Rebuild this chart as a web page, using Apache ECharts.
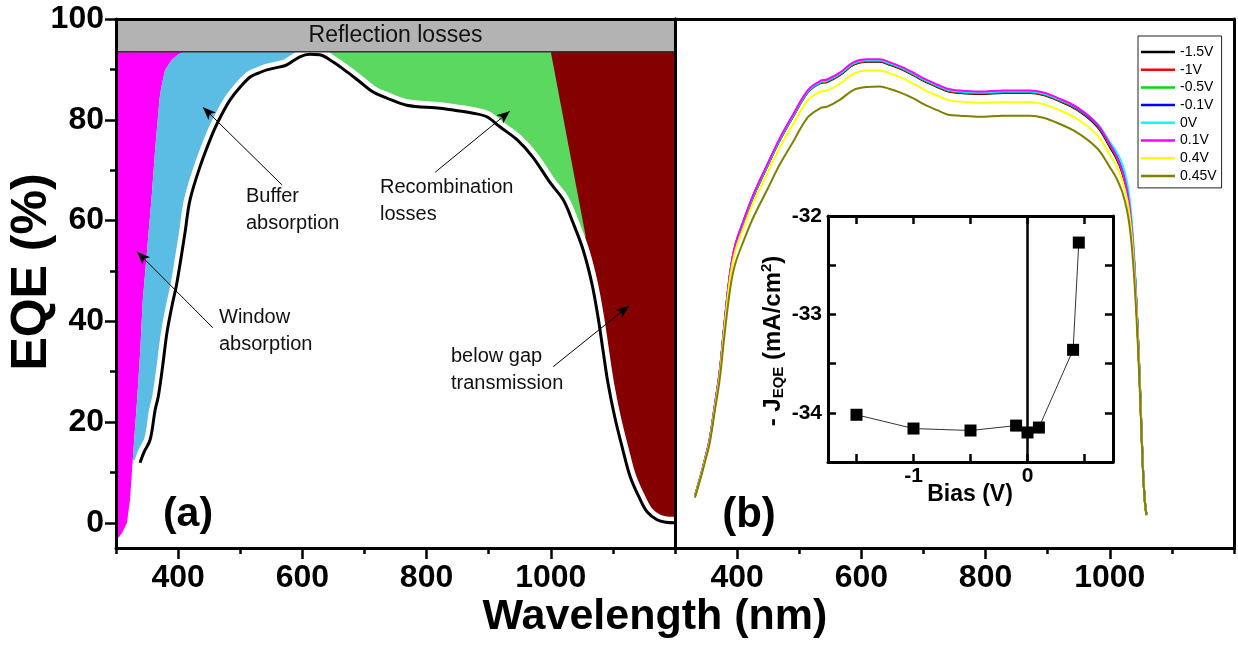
<!DOCTYPE html>
<html>
<head>
<meta charset="utf-8">
<title>EQE loss analysis and bias dependence</title>
<script src="https://cdn.jsdelivr.net/npm/echarts@6/dist/echarts.min.js"></script>
<style>
  html, body { margin: 0; padding: 0; background: #fff; }
  #chart { width: 1238px; height: 647px; }
</style>
</head>
<body>
<div id="chart"></div>
<script>
// ---------- panel (a): EQE and optical / electrical losses ----------
const eqeWl  = [338.6, 345, 355, 363, 368, 375, 382, 390, 398, 411, 419, 435, 456, 470, 484, 500, 516, 530, 543, 564,
                575, 596, 612, 628, 649, 672, 693, 714, 736, 768, 822, 850, 875, 897, 918, 946, 971, 999, 1020, 1036,
                1052, 1066, 1076, 1084, 1092, 1103, 1116, 1128, 1144, 1155, 1171, 1185, 1200];
const eqeVal = [11.9, 14.0, 16.5, 22.4, 25.0, 31.0, 37.7, 43.0, 47.6, 57.5, 64.0, 70.6, 77.4, 81.0, 84.0, 86.5, 88.5, 89.3, 89.9, 90.5,
                90.9, 92.5, 93.0, 92.9, 91.5, 89.5, 87.5, 85.5, 84.3, 82.9, 82.3, 81.8, 81.3, 80.6, 78.6, 76.0, 72.6, 67.5, 64.1, 59.5,
                54.2, 47.6, 40.9, 34.3, 27.8, 21.0, 14.5, 9.1, 4.6, 2.2, 0.6, 0.1, 0.0];

// upper limit after reflection losses
const reflectionLimit = 93.5;
// window / buffer absorption boundary, top to bottom
const windowEdge = [[411, 93.5], [401, 93.0], [390, 91.9], [379, 89.9], [373, 86.5], [370, 84.0], [363, 74.0],
                    [357, 64.0], [350, 54.0], [343, 44.0], [339, 34.0], [334, 24.4], [327, 12.5], [322.5, 4.6],
                    [317.7, 0.0], [313, -1.2], [309.7, -2.0], [305, -2.8], [300, -3.2]];
const bufferTipIndex = 12;
// recombination / below-gap boundary
const gapEdgeTop = [1000, 93.5];
const gapEdgeEnd = [1056, 57];

// annotation arrows: [from, to] in (nm, %)
const arrowBuffer = [[567, 67.1], [440, 82.5]];
const arrowWindow = [[456, 38.7], [334, 53.8]];
const arrowRecomb = [[814, 69.6], [934, 81.7]];
const arrowGap    = [[1004, 31.0], [1126, 43.1]];

// ---------- panel (b): EQE under bias ----------
const biasWl = [332, 338, 344, 350, 356, 364, 372, 380, 389, 397, 410, 426, 448, 469, 490, 514, 534, 545, 566, 587,
                609, 630, 646, 665, 683, 702, 722, 740, 759, 791, 828, 872, 893, 915, 947, 980,
                1000, 1010, 1020, 1028, 1034, 1039, 1043, 1047, 1050, 1053, 1056, 1059];
const biasNames = ['-1.5V', '-1V', '-0.5V', '-0.1V', '0V', '0.1V', '0.4V', '0.45V'];
const biasColors = ['#000000', '#ff0000', '#00dd00', '#0000ff', '#00ffff', '#ff00ff', '#ffff00', '#808000'];
const eqeM15 = [5.2,7.8,10.5,13.4,16.5,23.0,29.8,39.7,49.6,54.8,59.5,64.7,70.6,76.0,80.6,85.5,87.3,87.5,88.9,90.9,91.5,91.5,90.9,90.0,88.9,87.6,86.5,85.6,85.3,85.1,85.3,85.3,84.9,83.9,82.0,78.6,
                74.6,72.5,69.5,65.5,60.0,52.0,43.0,32.0,22.0,12.0,5.0,1.6];
const eqeM10 = [5.2,7.8,10.5,13.4,16.6,23.1,29.9,39.8,49.7,54.9,59.6,64.8,70.7,76.1,80.7,85.6,87.4,87.6,89.0,91.0,91.6,91.6,91.0,90.1,89.0,87.7,86.6,85.7,85.4,85.2,85.4,85.4,85.0,84.0,82.1,78.8,
                74.9,72.8,69.8,65.8,60.2,52.1,43.1,32.0,22.0,12.0,5.0,1.6];
const eqeM05 = [5.2,7.8,10.5,13.4,16.6,23.1,29.9,39.8,49.7,54.9,59.6,64.8,70.7,76.1,80.7,85.6,87.4,87.7,89.1,91.1,91.7,91.7,91.1,90.2,89.1,87.8,86.7,85.8,85.5,85.3,85.5,85.5,85.1,84.1,82.2,78.9,
                75.0,72.9,69.9,65.9,60.3,52.2,43.2,32.1,22.1,12.0,5.0,1.6];
const eqeM01 = [5.2,7.8,10.5,13.4,16.6,23.1,30.0,39.9,49.8,55.0,59.7,64.9,70.8,76.2,80.8,85.7,87.5,87.8,89.2,91.2,91.8,91.8,91.2,90.3,89.2,87.9,86.8,85.9,85.6,85.4,85.6,85.6,85.2,84.2,82.3,79.0,
                75.2,73.1,70.1,66.1,60.5,52.4,43.3,32.2,22.1,12.1,5.0,1.6];
const eqeP00 = [5.2,7.8,10.5,13.4,16.6,23.2,30.0,39.9,49.8,55.0,59.7,64.9,70.8,76.2,80.8,85.7,87.5,87.8,89.2,91.2,91.8,91.8,91.2,90.3,89.2,87.9,86.8,85.9,85.6,85.4,85.6,85.6,85.2,84.2,82.4,79.2,
                75.6,73.8,71.2,67.5,62.0,53.6,44.0,32.6,22.3,12.2,5.1,1.6];
const eqeP01 = [5.2,7.8,10.6,13.5,16.7,23.3,30.1,40.0,49.9,55.2,59.9,65.1,71.0,76.4,81.0,85.9,87.7,88.0,89.4,91.4,92.0,92.0,91.4,90.5,89.4,88.1,87.0,86.1,85.8,85.6,85.8,85.8,85.4,84.4,82.5,79.1,
                75.2,73.0,69.9,65.9,60.3,52.2,43.1,32.0,22.0,12.0,5.0,1.6];
const eqeP04 = [5.1,7.7,10.4,13.2,16.3,22.7,29.4,39.1,48.8,53.9,58.4,63.5,69.2,74.6,79.1,83.9,85.6,85.8,87.2,89.1,89.8,89.8,89.2,88.3,87.2,85.9,84.8,83.9,83.6,83.4,83.5,83.5,83.1,82.1,80.2,76.9,
                73.1,71.0,68.0,64.1,58.7,50.9,42.1,31.4,21.6,11.8,4.9,1.5];
const eqeP045 = [5.0,7.5,10.1,12.9,15.9,22.1,28.5,37.6,46.6,51.4,55.8,60.6,66.0,71.2,75.6,80.5,82.3,82.6,84.0,85.9,86.5,86.6,86.1,85.3,84.3,83.0,81.9,81.0,80.8,80.6,80.8,80.8,80.4,79.4,77.5,74.3,
                70.6,68.6,65.7,61.9,56.7,49.2,40.7,30.4,21.0,11.5,4.8,1.5];
const eqeByBias = [eqeM15, eqeM10, eqeM05, eqeM01, eqeP00, eqeP01, eqeP04, eqeP045];

// ---------- inset: photocurrent from EQE vs bias ----------
const biasV = [-1.5, -1, -0.5, -0.1, 0, 0.1, 0.4, 0.45];
const jEqe  = [-34.02, -34.16, -34.18, -34.13, -34.20, -34.15, -33.36, -32.27];

// tick values
const wlMajor = [400, 600, 800, 1000];
const wlMinor = [300, 500, 700, 900, 1100, 1200];
const eqeMajor = [0, 20, 40, 60, 80, 100];
const eqeMinor = [10, 30, 50, 70, 90];
const biasTicks = [-1.5, -1, -0.5, 0, 0.5];
const biasLabels = [-1, 0];
const jTicks = [-34, -33.5, -33, -32.5];
const jLabels = [-34, -33, -32];

// ---------- derived polygons ----------
const zip = (xs, ys) => xs.map((x, i) => [x, ys[i]]);
const reflectionPoly = [[300, reflectionLimit], [1200, reflectionLimit], [1200, 100], [300, 100]];
const windowPoly = [[300, reflectionLimit]].concat(windowEdge);
const bufferPoly = windowEdge.slice(0, bufferTipIndex + 1)
  .concat([[eqeWl[0], eqeVal[0]], [345, 0], [600, 0], [600, reflectionLimit]]);
const recombPoly = [[600, reflectionLimit], gapEdgeTop, gapEdgeEnd, [1040, 45], [600, 45]];
const gapPoly = [gapEdgeTop, [1200, reflectionLimit], [1200, -5], [1000, -5]];

const FONT = '"Liberation Sans", Arial, Helvetica, sans-serif';
const SMOOTH = 0.35;
const plain = function (v) { return String(v); };

function region(points, color, z) {
  return {
    type: 'custom', xAxisIndex: 0, yAxisIndex: 0, z: z, silent: true, animation: false,
    data: points, encode: { x: 0, y: 1 },
    renderItem: function (params, api) {
      if (params.dataIndex !== 0) return null;
      return {
        type: 'polygon',
        shape: { points: points.map(function (p) { return api.coord(p); }) },
        style: { fill: color }
      };
    }
  };
}

// gray reflection band with its lower edge and caption
const reflectionSeries = {
  type: 'custom', xAxisIndex: 0, yAxisIndex: 0, z: 4, silent: true, animation: false,
  data: reflectionPoly, encode: { x: 0, y: 1 },
  renderItem: function (params, api) {
    if (params.dataIndex !== 0) return null;
    const mid = api.coord([750, (reflectionLimit + 100) / 2]);
    return {
      type: 'group',
      children: [
        { type: 'polygon', shape: { points: reflectionPoly.map(function (p) { return api.coord(p); }) },
          style: { fill: '#b3b3b3' } },
        { type: 'polyline', shape: { points: [api.coord([300, reflectionLimit]), api.coord([1200, reflectionLimit])] },
          style: { stroke: '#333', lineWidth: 1.5, fill: null } },
        { type: 'text', x: mid[0], y: mid[1],
          style: { text: 'Reflection losses', fontSize: 23, fontFamily: FONT, fill: '#111',
                   align: 'center', verticalAlign: 'middle' } }
      ]
    };
  }
};

const axisLine = { show: true, onZero: false, lineStyle: { color: '#000', width: 3 } };
const noLine = { show: false, onZero: false };
const tickStyle = { color: '#000', width: 2.5 };
const labelBig = { fontSize: 32, fontWeight: 'bold', fontFamily: FONT, color: '#000', formatter: plain };
const labelInset = { fontSize: 21, fontWeight: 'bold', fontFamily: FONT, color: '#000', formatter: plain };
const hidden = { show: false };

function frameAxis(gridIndex, position, min, max) {
  return { gridIndex: gridIndex, type: 'value', position: position, min: min, max: max, z: 10,
           axisLine: axisLine, axisTick: hidden, axisLabel: hidden, splitLine: hidden };
}

const xAxes = [
  // panel (a)
  { gridIndex: 0, type: 'value', position: 'bottom', min: 300, max: 1200, z: 10, axisLine: axisLine,
    axisTick: { show: true, length: 6, lineStyle: tickStyle, customValues: wlMinor },
    axisLabel: hidden, splitLine: hidden },
  { gridIndex: 0, type: 'value', position: 'bottom', min: 300, max: 1200, z: 10, axisLine: noLine,
    axisTick: { show: true, length: 11, lineStyle: tickStyle, customValues: wlMajor },
    axisLabel: Object.assign({ margin: 14, customValues: wlMajor }, labelBig), splitLine: hidden },
  frameAxis(0, 'top', 300, 1200),
  // panel (b)
  { gridIndex: 1, type: 'value', position: 'bottom', min: 300, max: 1200, z: 10, axisLine: axisLine,
    axisTick: { show: true, length: 6, lineStyle: tickStyle, customValues: wlMinor },
    axisLabel: hidden, splitLine: hidden },
  { gridIndex: 1, type: 'value', position: 'bottom', min: 300, max: 1200, z: 10, axisLine: noLine,
    axisTick: { show: true, length: 11, lineStyle: tickStyle, customValues: wlMajor },
    axisLabel: Object.assign({ margin: 14, customValues: wlMajor }, labelBig), splitLine: hidden },
  frameAxis(1, 'top', 300, 1200),
  // inset
  { gridIndex: 2, type: 'value', position: 'bottom', min: -1.75, max: 0.75, z: 10, axisLine: axisLine,
    axisTick: { show: true, inside: true, length: 8, lineStyle: tickStyle, customValues: biasTicks },
    axisLabel: Object.assign({ margin: 4, customValues: biasLabels }, labelInset), splitLine: hidden },
  { gridIndex: 2, type: 'value', position: 'top', min: -1.75, max: 0.75, z: 10, axisLine: axisLine,
    axisTick: { show: true, inside: true, length: 8, lineStyle: tickStyle, customValues: biasTicks },
    axisLabel: hidden, splitLine: hidden }
];

const yAxes = [
  // panel (a)
  { gridIndex: 0, type: 'value', position: 'left', min: -5, max: 100, z: 10, axisLine: axisLine,
    axisTick: { show: true, length: 6, lineStyle: tickStyle, customValues: eqeMinor },
    axisLabel: hidden, splitLine: hidden },
  { gridIndex: 0, type: 'value', position: 'left', min: -5, max: 100, z: 10, axisLine: noLine,
    axisTick: { show: true, length: 11, lineStyle: tickStyle, customValues: eqeMajor },
    axisLabel: Object.assign({ margin: 12, customValues: eqeMajor }, labelBig), splitLine: hidden },
  frameAxis(0, 'right', -5, 100),
  // panel (b)
  frameAxis(1, 'left', -5, 100),
  frameAxis(1, 'right', -5, 100),
  // inset
  { gridIndex: 2, type: 'value', position: 'left', min: -34.5, max: -32, z: 10, axisLine: axisLine,
    axisTick: { show: true, inside: true, length: 8, lineStyle: tickStyle, customValues: jTicks },
    axisLabel: Object.assign({ margin: 6, customValues: jLabels }, labelInset), splitLine: hidden },
  { gridIndex: 2, type: 'value', position: 'right', min: -34.5, max: -32, z: 10, axisLine: axisLine,
    axisTick: { show: true, inside: true, length: 8, lineStyle: tickStyle, customValues: jTicks },
    axisLabel: hidden, splitLine: hidden }
];

const eqeData = zip(eqeWl, eqeVal);
const arrows = [arrowBuffer, arrowWindow, arrowRecomb, arrowGap];

const series = [
  region(gapPoly, '#850000', 1),
  region(windowPoly, '#ff00ff', 1),
  region(bufferPoly, '#5bbde4', 1),
  region(recombPoly, '#5ad860', 1),
  // white margin and clearing below the EQE curve
  { type: 'line', xAxisIndex: 0, yAxisIndex: 0, z: 2, data: eqeData, smooth: SMOOTH, showSymbol: false,
    symbol: 'none', silent: true, animation: false,
    lineStyle: { color: '#fff', width: 12 }, areaStyle: { color: '#fff', opacity: 1, origin: 'start' } },
  // measured EQE
  { type: 'line', xAxisIndex: 0, yAxisIndex: 0, z: 3, data: eqeData, smooth: SMOOTH, showSymbol: false,
    symbol: 'none', silent: true, animation: false,
    lineStyle: { color: '#000', width: 3 },
    markLine: {
      silent: true, animation: false, symbol: ['none', 'arrow'], symbolSize: [8, 13],
      lineStyle: { color: '#000', width: 1, type: 'solid' }, label: { show: false },
      emphasis: { disabled: true },
      data: arrows.map(function (a) { return [{ coord: a[0] }, { coord: a[1] }]; })
    } },
  reflectionSeries
];

biasNames.forEach(function (name, i) {
  series.push({
    name: name, type: 'line', xAxisIndex: 3, yAxisIndex: 3, z: 3 + i * 0.01,
    data: zip(biasWl, eqeByBias[i]), smooth: SMOOTH, showSymbol: false, symbol: 'none',
    silent: true, animation: false, color: biasColors[i],
    lineStyle: { color: biasColors[i], width: 2 }
  });
});

series.push({
  type: 'line', xAxisIndex: 6, yAxisIndex: 5, z: 5, data: zip(biasV, jEqe),
  symbol: 'rect', symbolSize: 12, showSymbol: true, silent: true, animation: false,
  itemStyle: { color: '#000' }, lineStyle: { color: '#333', width: 1 },
  markLine: {
    silent: true, animation: false, symbol: ['none', 'none'], label: { show: false },
    lineStyle: { color: '#000', width: 2.5, type: 'solid' }, emphasis: { disabled: true },
    data: [{ xAxis: 0 }]
  }
});

function note(text, x, y) {
  return { type: 'text', x: x, y: y, z: 100,
           style: { text: text, fontSize: 20, lineHeight: 27, fontFamily: FONT, fill: '#111',
                    align: 'left', verticalAlign: 'top' } };
}

const option = {
  animation: false,
  backgroundColor: '#fff',
  grid: [
    { left: 116, top: 19, width: 559, height: 529, outerBoundsMode: 'none' },
    { left: 675, top: 19, width: 559, height: 529, outerBoundsMode: 'none' },
    { left: 828, top: 216, width: 285, height: 246, outerBoundsMode: 'none' }
  ],
  xAxis: xAxes,
  yAxis: yAxes,
  legend: {
    data: biasNames, orient: 'vertical', left: 1138, top: 36, padding: [9, 5, 5, 3],
    itemGap: 3.7, itemWidth: 34, itemHeight: 2.5, icon: 'rect', selectedMode: false,
    borderColor: '#222', borderWidth: 1, backgroundColor: '#fff',
    textStyle: { fontSize: 14, lineHeight: 14, fontFamily: FONT, color: '#000' }
  },
  series: series,
  graphic: [
    { type: 'text', x: 32, y: 272, rotation: Math.PI / 2, z: 100,
      style: { text: 'EQE (%)', fontSize: 50, fontWeight: 'bold', fontFamily: FONT, fill: '#000',
               align: 'center', verticalAlign: 'middle' } },
    { type: 'text', x: 655, y: 617, z: 100,
      style: { text: 'Wavelength (nm)', fontSize: 43, fontWeight: 'bold', fontFamily: FONT, fill: '#000',
               align: 'center', verticalAlign: 'middle' } },
    { type: 'text', x: 188, y: 515, z: 100,
      style: { text: '(a)', fontSize: 41, fontWeight: 'bold', fontFamily: FONT, fill: '#000',
               align: 'center', verticalAlign: 'middle' } },
    { type: 'text', x: 749, y: 515, z: 100,
      style: { text: '(b)', fontSize: 42, fontWeight: 'bold', fontFamily: FONT, fill: '#000',
               align: 'center', verticalAlign: 'middle' } },
    note('Buffer\nabsorption', 246, 183),
    note('Window\nabsorption', 219, 304),
    note('Recombination\nlosses', 380, 174),
    note('below gap\ntransmission', 451, 343),
    { type: 'text', x: 773, y: 341, rotation: Math.PI / 2, z: 100,
      style: {
        text: '{m|- J}{s|EQE}{m| (mA/cm}{p|2}{m|)}', align: 'center', verticalAlign: 'middle',
        rich: {
          m: { fontSize: 24, fontWeight: 'bold', fontFamily: FONT, fill: '#000', lineHeight: 27, verticalAlign: 'middle' },
          s: { fontSize: 15, fontWeight: 'bold', fontFamily: FONT, fill: '#000', lineHeight: 15, verticalAlign: 'bottom' },
          p: { fontSize: 15, fontWeight: 'bold', fontFamily: FONT, fill: '#000', lineHeight: 15, verticalAlign: 'top' }
        }
      } },
    { type: 'text', x: 970, y: 495, z: 100,
      style: { text: 'Bias (V)', fontSize: 23, fontWeight: 'bold', fontFamily: FONT, fill: '#000',
               align: 'center', verticalAlign: 'middle' } }
  ]
};

const chart = echarts.init(document.getElementById('chart'), null, { renderer: 'canvas' });
chart.setOption(option);
</script>
</body>
</html>
